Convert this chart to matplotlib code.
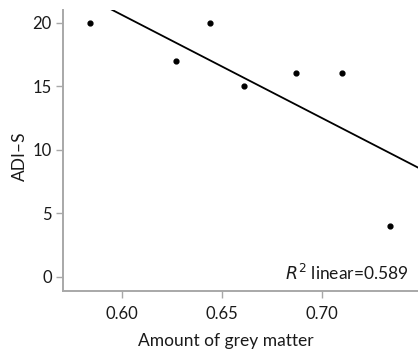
import numpy as np
import matplotlib
matplotlib.use("Agg")
import matplotlib.pyplot as plt

plt.rcParams['font.family'] = ['Lato', 'DejaVu Sans']

# data
grey_matter = [0.584, 0.627, 0.644, 0.661, 0.687, 0.710, 0.734]
adi_s = [20, 17, 20, 15, 16, 16, 4]
x_ticks = [0.60, 0.65, 0.70]
x_tick_labels = ["0.60", "0.65", "0.70"]
y_ticks = [0, 5, 10, 15, 20]
r2_label = "$\\mathit{R}^2$ linear=0.589"

fig = plt.figure(figsize=(4.18, 3.49), dpi=100)
ax = fig.add_axes([63 / 418, 58 / 349, 355 / 418, 281 / 349])

ax.scatter(grey_matter, adi_s, s=12, color="black", zorder=3)

slope, intercept = np.polyfit(grey_matter, adi_s, 1)
xs = np.array([0.55, 0.76])
ax.plot(xs, slope * xs + intercept, color="black", lw=1.3)

ax.set_xlim(0.5704, 0.7482)
ax.set_ylim(-1.13, 21.0)
ax.set_xticks(x_ticks)
ax.set_xticklabels(x_tick_labels)
ax.set_yticks(y_ticks)

for side in ("top", "right"):
    ax.spines[side].set_visible(False)
for side in ("left", "bottom"):
    ax.spines[side].set_color("#a8a8a8")
    ax.spines[side].set_linewidth(1.4)
ax.tick_params(colors="#a8a8a8", labelcolor="#1a1a1a", length=5, width=1,
               labelsize=12)
ax.tick_params(axis="x", pad=6)
ax.tick_params(axis="y", pad=3)

ax.set_xlabel("Amount of grey matter", fontsize=12.5, color="#1a1a1a")
ax.xaxis.set_label_coords(0.459, -0.15)
ax.set_ylabel("ADI–S", fontsize=12.5, color="#1a1a1a")
ax.yaxis.set_label_coords(-0.099, 0.48)

ax.text(0.972, 0.065, r2_label, transform=ax.transAxes, ha="right", va="center",
        fontsize=12.5, color="#1a1a1a")

fig.savefig("out.png", dpi=100)
